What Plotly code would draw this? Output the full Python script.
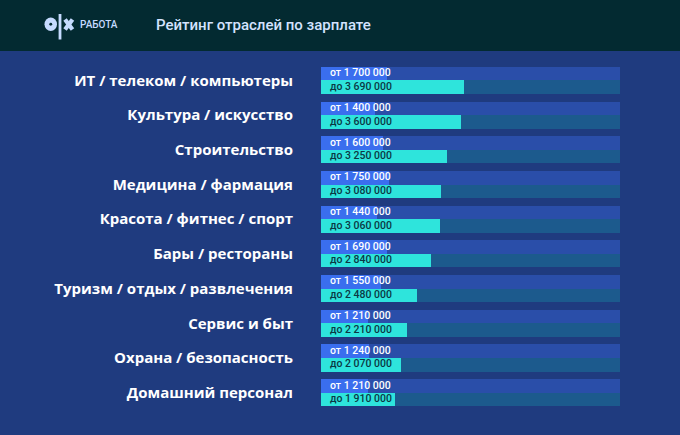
import plotly.graph_objects as go

categories = [
    "ИТ / телеком / компьютеры",
    "Культура / искусство",
    "Строительство",
    "Медицина / фармация",
    "Красота / фитнес / спорт",
    "Бары / рестораны",
    "Туризм / отдых / развлечения",
    "Сервис и быт",
    "Охрана / безопасность",
    "Домашний персонал",
]
salary_from = [1700000, 1400000, 1600000, 1750000, 1440000, 1690000, 1550000, 1210000, 1240000, 1210000]
salary_to = [3690000, 3600000, 3250000, 3080000, 3060000, 2840000, 2480000, 2210000, 2070000, 1910000]
axis_max = 7700000

title = "Рейтинг отраслей по зарплате"
logo_sub = "РАБОТА"

W, H = 680, 435
BG = "#1f3b7f"
HEADER = "#032a31"
TRACK_TOP = "#2a4ea9"
TRACK_BOT = "#1c5a8d"
BAR_TOP = "#3a6eee"
BAR_BOT = "#2ee4dc"
LOGO = "#c6dbff"

def fmt(v):
    return f"{v:,}".replace(",", " ")

rows = list(range(len(categories)))
off = 0.195
bw = 0.39
y_top = [r - off for r in rows]
y_bot = [r + off for r in rows]

fig = go.Figure()
fig.add_trace(go.Bar(y=y_top, x=[axis_max] * len(rows), orientation="h", width=bw,
                     marker=dict(color=TRACK_TOP, line=dict(width=0)), hoverinfo="skip"))
fig.add_trace(go.Bar(y=y_bot, x=[axis_max] * len(rows), orientation="h", width=bw,
                     marker=dict(color=TRACK_BOT, line=dict(width=0)), hoverinfo="skip"))
fig.add_trace(go.Bar(y=y_top, x=salary_from, orientation="h", width=bw,
                     marker=dict(color=BAR_TOP, line=dict(width=0))))
fig.add_trace(go.Bar(y=y_bot, x=salary_to, orientation="h", width=bw,
                     marker=dict(color=BAR_BOT, line=dict(width=0))))
tx = axis_max * 0.03
fig.add_trace(go.Scatter(y=y_top, x=[tx] * len(rows), mode="text",
                         text=["от " + fmt(v) for v in salary_from], textposition="middle right",
                         textfont=dict(family="Roboto", size=10.5, color="#ffffff", weight=500), hoverinfo="skip"))
fig.add_trace(go.Scatter(y=y_bot, x=[tx] * len(rows), mode="text",
                         text=["до " + fmt(v) for v in salary_to], textposition="middle right",
                         textfont=dict(family="Roboto", size=10.5, color="#0b3844", weight=500), hoverinfo="skip"))

def px(x):
    return x / W

def py(y):
    return 1 - y / H

shapes = [
    dict(type="rect", xref="paper", yref="paper", x0=0, x1=1, y0=py(51), y1=1,
         fillcolor=HEADER, line=dict(width=0), layer="below"),
    dict(type="circle", xref="paper", yref="paper", x0=px(44.5), x1=px(57), y0=py(31), y1=py(17.5),
         fillcolor=LOGO, line=dict(width=0)),
    dict(type="circle", xref="paper", yref="paper", x0=px(49.3), x1=px(52.2), y0=py(25.7), y1=py(22.8),
         fillcolor=HEADER, line=dict(width=0)),
    dict(type="rect", xref="paper", yref="paper", x0=px(58.6), x1=px(61.4), y0=py(39.5), y1=py(14),
         fillcolor=LOGO, line=dict(width=0)),
    dict(type="line", xref="paper", yref="paper", x0=px(65), x1=px(72.5), y0=py(19.5), y1=py(29.5),
         line=dict(color=LOGO, width=4.2)),
    dict(type="line", xref="paper", yref="paper", x0=px(65), x1=px(72.5), y0=py(29.5), y1=py(19.5),
         line=dict(color=LOGO, width=4.2)),
]

annotations = [
    dict(text=logo_sub, xref="paper", yref="paper", x=px(78), y=py(24.5), xanchor="left", yanchor="middle",
         showarrow=False, font=dict(family="Roboto", size=10, color=LOGO, weight=500)),
    dict(text=title, xref="paper", yref="paper", x=px(154), y=py(25), xanchor="left", yanchor="middle",
         showarrow=False, font=dict(family="Roboto", size=15, color="#d4e3ff", weight=500)),
]

fig.update_layout(
    width=W, height=H,
    margin=dict(l=0, r=0, t=0, b=0),
    paper_bgcolor=BG, plot_bgcolor=BG,
    barmode="overlay", bargap=0,
    showlegend=False,
    shapes=shapes, annotations=annotations,
    xaxis=dict(domain=[321 / W, 620 / W], range=[0, axis_max], visible=False, fixedrange=True),
    yaxis=dict(domain=[0, 1], range=[10.22, -2.32], tickmode="array", tickvals=rows, ticktext=categories,
               showgrid=False, zeroline=False, showline=False, ticks="", ticklabelstandoff=27,
               tickfont=dict(family="Open Sans", size=15, color="#ffffff", weight="bold"), fixedrange=True),
)

fig.write_html("out.html")
